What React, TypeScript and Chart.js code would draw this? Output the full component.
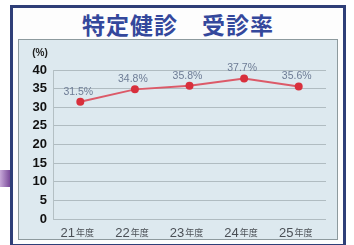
import React, { useEffect, useRef } from "react";
import { Chart, registerables } from "chart.js";

Chart.register(...registerables);

const title = "特定健診　受診率";
const categories = ["21年度", "22年度", "23年度", "24年度", "25年度"];
const rates = [31.5, 34.8, 35.8, 37.7, 35.6];
const rateLabels = ["31.5%", "34.8%", "35.8%", "37.7%", "35.6%"];
const unitLabel = "(%)";
const yMin = 0;
const yMax = 40;
const yStep = 5;

const overlayPlugin = {
  id: "overlayLabels",
  afterDraw(chart: any) {
    const ctx = chart.ctx;
    const meta = chart.getDatasetMeta(0);
    const xs = chart.scales.x;
    ctx.save();
    ctx.font = '10.5px "Liberation Sans"';
    ctx.fillStyle = "#6d7c95";
    ctx.textAlign = "center";
    ctx.textBaseline = "middle";
    meta.data.forEach((pt: any, i: number) => {
      ctx.fillText(rateLabels[i], pt.x - 2, pt.y - 10);
    });
    categories.forEach((c, i) => {
      const m = c.match(/^(\d+)(.*)$/);
      const num = m ? m[1] : c;
      const suf = m ? m[2] : "";
      ctx.font = '13px "Liberation Sans"';
      const w1 = ctx.measureText(num).width;
      ctx.font = '9px "Noto Sans CJK JP"';
      const w2 = ctx.measureText(suf).width;
      const x0 = xs.getPixelForValue(i) - 3 - (w1 + w2 + 1) / 2;
      const y = chart.chartArea.bottom + 18;
      ctx.textAlign = "left";
      ctx.textBaseline = "alphabetic";
      ctx.fillStyle = "#4a4f55";
      ctx.font = '13px "Liberation Sans"';
      ctx.fillText(num, x0, y);
      ctx.font = '9px "Noto Sans CJK JP"';
      ctx.fillText(suf, x0 + w1 + 1, y - 1);
    });
    ctx.font = 'bold 10px "Liberation Sans"';
    ctx.fillStyle = "#222";
    ctx.textAlign = "center";
    ctx.textBaseline = "middle";
    ctx.fillText(unitLabel, 21, 13);
    ctx.restore();
  },
};

function RateChart() {
  const ref = useRef<HTMLCanvasElement | null>(null);
  useEffect(() => {
    if (!ref.current) return;
    const chart = new Chart(ref.current, {
      type: "line",
      data: {
        labels: categories,
        datasets: [
          {
            data: rates,
            borderColor: "#dc5a68",
            borderWidth: 2,
            pointRadius: 3,
            pointBackgroundColor: "#d8303c",
            pointBorderColor: "#d8303c",
            tension: 0,
          },
        ],
      },
      options: {
        responsive: false,
        animation: false,
        layout: { padding: { left: 0, right: 11, top: 30, bottom: 20 } },
        plugins: {
          legend: { display: false },
          tooltip: { enabled: false },
        },
        scales: {
          x: {
            offset: true,
            grid: { display: false, drawTicks: false },
            border: { display: false },
            ticks: { display: false },
          },
          y: {
            min: yMin,
            max: yMax,
            afterFit(scale: any) {
              scale.width = 34;
            },
            ticks: {
              stepSize: yStep,
              padding: 6,
              color: "#111",
              font: { family: "Liberation Sans", size: 13, weight: "bold" },
            },
            grid: { color: "#b0bcc1", lineWidth: 1, drawTicks: false },
            border: { display: true, color: "#b4c0c4" },
          },
        },
      },
      plugins: [overlayPlugin],
    });
    return () => chart.destroy();
  }, []);
  return <canvas ref={ref} width={318} height={199} style={{ display: "block" }} />;
}

export default function App() {
  return (
    <div
      style={{
        position: "absolute",
        left: 0,
        top: 0,
        width: 354,
        height: 245,
        background: "#ffffff",
        overflow: "hidden",
      }}
    >
      <div
        style={{
          position: "absolute",
          left: 0,
          top: 170,
          width: 10,
          height: 17,
          background: "linear-gradient(90deg,#c7a8d8,#7a4a9a)",
        }}
      />
      <div
        style={{
          position: "absolute",
          left: 10,
          top: 5,
          width: 336,
          height: 242,
          boxSizing: "border-box",
          border: "3px solid #2f3f78",
          background: "#fdfdfd",
        }}
      />
      <div
        style={{
          position: "absolute",
          left: 10,
          top: 9,
          width: 336,
          textAlign: "center",
          lineHeight: "30px",
          fontSize: 23,
          fontWeight: 700,
          fontFamily: '"Noto Sans CJK JP", sans-serif',
          color: "#34489c",
          letterSpacing: 1,
        }}
      >
        {title}
      </div>
      <div
        style={{
          position: "absolute",
          left: 18,
          top: 39,
          width: 320,
          height: 201,
          boxSizing: "border-box",
          border: "1px solid #8d9a9e",
          background: "#dde9ef",
        }}
      >
        <RateChart />
      </div>
    </div>
  );
}
